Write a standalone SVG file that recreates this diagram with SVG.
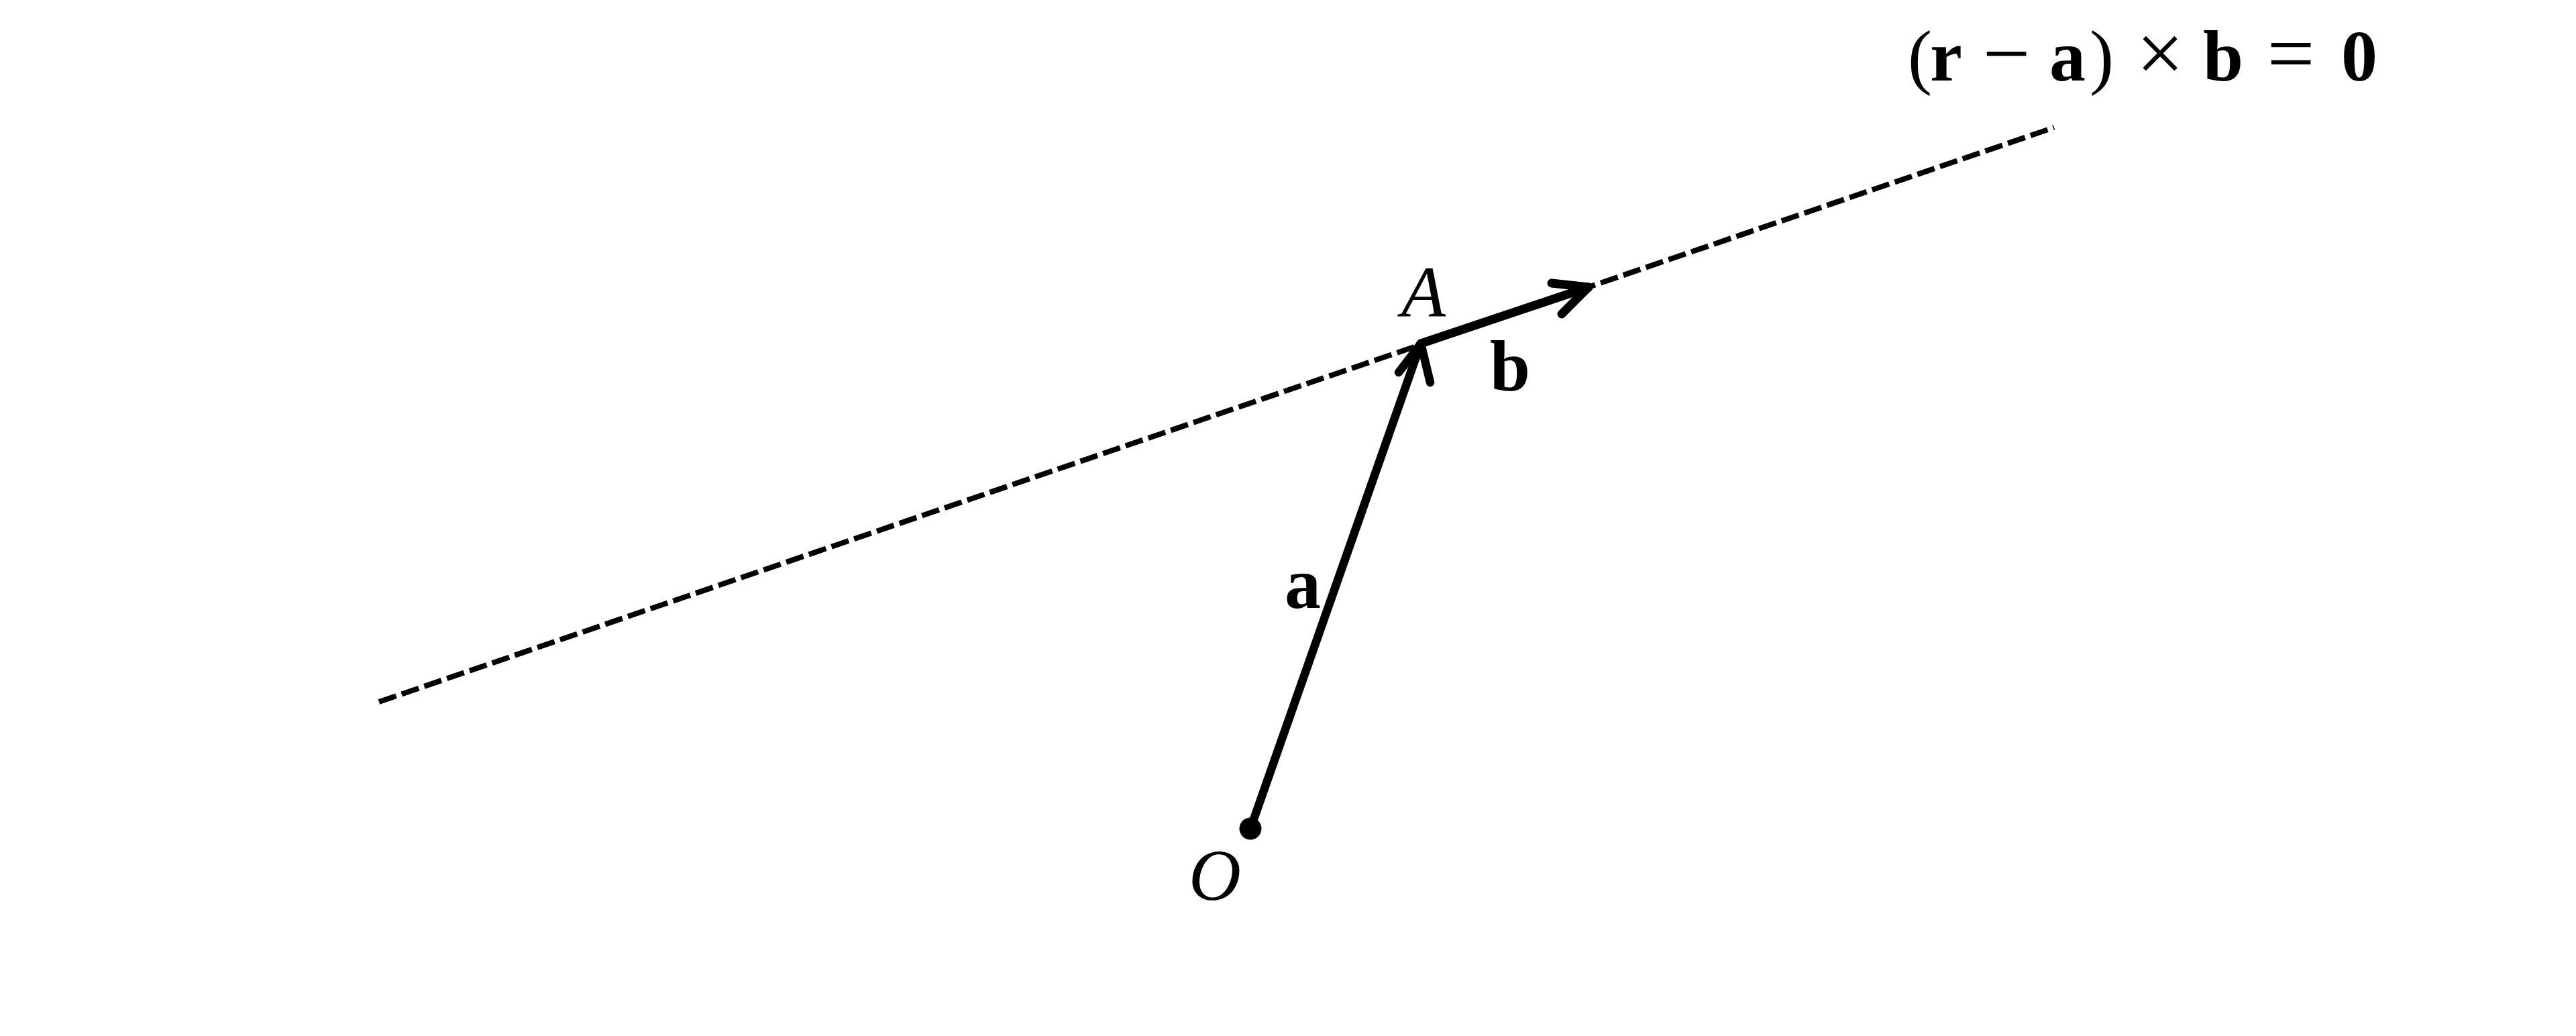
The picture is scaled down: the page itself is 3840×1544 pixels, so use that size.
<svg xmlns="http://www.w3.org/2000/svg" width="3840" height="1544" viewBox="0 0 3840 1544">
<style>
.t{font-family:"Liberation Serif","Times New Roman",serif;font-size:108px;fill:#000;text-anchor:middle}
.b{font-weight:bold}
.i{font-style:italic}
.op{font-size:126px}
.vec{fill:none;stroke:#000;stroke-width:12.5;stroke-linecap:round;stroke-linejoin:round}
.dash{fill:none;stroke:#000;stroke-width:8;stroke-dasharray:27 8.65}
</style>
<rect width="3840" height="1544" fill="#fff"/>
<g id="connectors">
<line class="dash" x1="565" y1="1046" x2="3062" y2="190"/>
<g id="vector-a">
<line class="vec" x1="1864" y1="1235" x2="2118" y2="512"/>
<polyline class="vec" points="2085,555 2118,512 2132,570"/>
</g>
<g id="vector-b">
<line class="vec" x1="2118" y1="512" x2="2368" y2="428" style="stroke-width:13"/>
<polyline class="vec" points="2313,422 2368,428 2328,468" style="stroke-width:13"/>
</g>
</g>
<g id="node-O">
<circle cx="1864" cy="1235" r="16.5" fill="#000"/>
<text class="t i" x="1811" y="1341">O</text>
</g>
<g id="node-A">
<text class="t i" x="2122" y="472">A</text>
</g>
<g id="label-a"><text class="t b" x="1942" y="906">a</text></g>
<g id="label-b"><text class="t b" x="2251" y="582">b</text></g>
<g id="equation">
<text class="t" x="2862" y="120">(</text>
<text class="t b" x="2901" y="120">r</text>
<text class="t op" x="2991" y="122">−</text>
<text class="t b" x="3082" y="120">a</text>
<text class="t" x="3133" y="120">)</text>
<text class="t op" x="3220" y="122">×</text>
<text class="t b" x="3314" y="120">b</text>
<text class="t op" x="3415" y="122">=</text>
<text class="t b" x="3517" y="120">0</text>
</g>
</svg>
